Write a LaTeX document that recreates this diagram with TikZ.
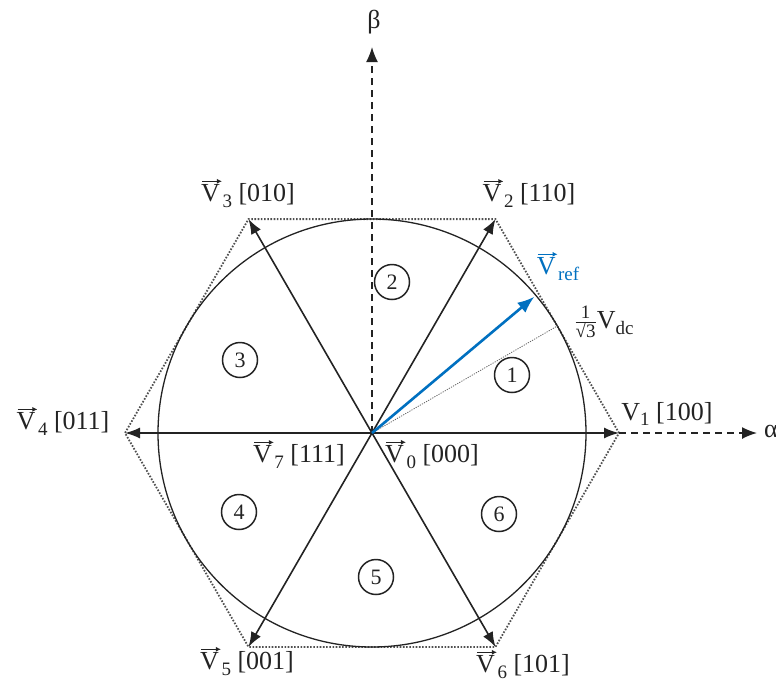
\documentclass[tikz,border=0pt]{standalone}
\usepackage{fontspec}
\setmainfont{Liberation Serif}
\usetikzlibrary{arrows.meta}
\definecolor{refblue}{RGB}{0,112,192}
\definecolor{txt}{RGB}{35,35,35}
\newcommand{\vecV}{\tikz[baseline=(vv.base),x=1pt,y=1pt]{\node[inner sep=0pt,outer sep=0pt] (vv) {V};
  \draw[line width=1.2pt,-{Latex[length=5pt,width=5pt]}] ([xshift=1pt,yshift=3pt]vv.north west) -- ([xshift=2pt,yshift=3pt]vv.north east);}}
\newcommand{\sbs}[1]{\raisebox{-0.22em}{\fontsize{19}{19}\selectfont #1}}
\begin{document}
\begin{tikzpicture}[x=1pt,y=-1pt,
  vecarrow/.style={line width=1.6pt, draw=txt, -{Latex[length=15pt,width=11pt]}},
  hexa/.style={line width=1.8pt, draw=txt!80, dash pattern=on 1.6pt off 1.6pt},
  axis/.style={line width=1.5pt, draw=txt, dash pattern=on 7pt off 5pt, -{Latex[length=15pt,width=12pt]}},
  lbl/.style={text=txt, font=\fontsize{26}{28}\selectfont, inner sep=0pt},
  sector/.style={circle, draw=txt, line width=1.5pt, minimum size=35pt, inner sep=0pt, text=txt, font=\fontsize{22}{24}\selectfont}
]
\useasboundingbox (0,0) rectangle (776,689);
\coordinate (O) at (372,433);
\coordinate (P1) at (619,433);
\coordinate (P2) at (495.5,219.1);
\coordinate (P3) at (248.5,219.1);
\coordinate (P4) at (125,433);
\coordinate (P5) at (248.5,646.9);
\coordinate (P6) at (495.5,646.9);
\coordinate (AX) at (757,433);
\coordinate (BY) at (372,47);
\coordinate (VR) at (534.4,296.7);
\coordinate (RD) at (557.3,326);

% hexagon and circle
\draw[hexa] (P1) -- (P2) -- (P3) -- (P4) -- (P5) -- (P6) -- cycle;
\draw[line width=1.3pt, draw=txt] (O) circle[radius=214pt];

% axes
\draw[axis] (O) -- (BY);
\draw[axis] (P1) -- (AX);
\node[lbl] (beta) at (374,22) {β};
\node[lbl, anchor=west] (alpha) at (764,431) {α};

% radius line
\draw[line width=0.8pt, draw=txt!70, dash pattern=on 1.2pt off 1.2pt] (O) -- (RD);

% vectors
\draw[vecarrow] (O) -- (P1);
\draw[vecarrow] (O) -- (P2);
\draw[vecarrow] (O) -- (P3);
\draw[vecarrow] (O) -- (P4);
\draw[vecarrow] (O) -- (P5);
\draw[vecarrow] (O) -- (P6);
\draw[line width=2.6pt, draw=refblue, -{Latex[length=17pt,width=13pt]}] (O) -- (VR);

% labels
\node[lbl] (l1) at (667,414) {V\sbs{1} [100]};
\node[lbl] (l2) at (529,193) {\vecV\sbs{2} [110]};
\node[lbl] (l3) at (248,193) {\vecV\sbs{3} [010]};
\node[lbl] (l4) at (63,421) {\vecV\sbs{4} [011]};
\node[lbl] (l5) at (247,661) {\vecV\sbs{5} [001]};
\node[lbl] (l6) at (523,664) {\vecV\sbs{6} [101]};
\node[lbl] (l7) at (299,454) {\vecV\sbs{7} [111]};
\node[lbl] (l0) at (432,454) {\vecV\sbs{0} [000]};
\node[lbl, text=refblue] (lref) at (558,266) {\color{refblue}\vecV\sbs{ref}};
\node[lbl] (ldc) at (604,322) {$\frac{\hbox{\fontsize{19}{19}\selectfont 1}}{\hbox{\fontsize{19}{19}\selectfont √3}}$V\sbs{dc}};

% sector numbers
\node[sector] (s1) at (512,375) {1};
\node[sector] (s2) at (392,282) {2};
\node[sector] (s3) at (240,360) {3};
\node[sector] (s4) at (239,512) {4};
\node[sector] (s5) at (376,577) {5};
\node[sector] (s6) at (499,514) {6};
\end{tikzpicture}
\end{document}
